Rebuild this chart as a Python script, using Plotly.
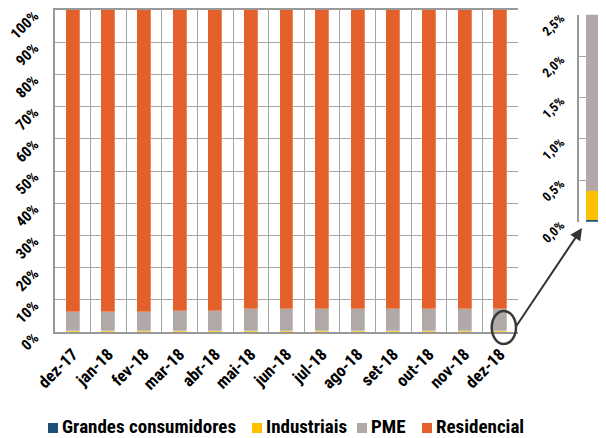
import plotly.graph_objects as go

# share of each segment (%), dez-17 .. dez-18
meses = ["dez-17", "jan-18", "fev-18", "mar-18", "abr-18", "mai-18", "jun-18",
         "jul-18", "ago-18", "set-18", "out-18", "nov-18", "dez-18"]
grandes = [0.03, 0.03, 0.03, 0.03, 0.03, 0.03, 0.03, 0.03, 0.03, 0.03, 0.03, 0.03, 0.03]
industriais = [0.34, 0.34, 0.34, 0.34, 0.34, 0.34, 0.34, 0.34, 0.34, 0.34, 0.34, 0.34, 0.34]
pme = [5.83, 5.83, 5.83, 6.23, 6.23, 6.63, 6.63, 6.63, 6.63, 6.63, 6.63, 6.63, 6.73]
residencial = [93.8, 93.8, 93.8, 93.4, 93.4, 93.0, 93.0, 93.0, 93.0, 93.0, 93.0, 93.0, 92.9]

main_ticks = [0, 10, 20, 30, 40, 50, 60, 70, 80, 90, 100]
main_labels = ["0%", "10%", "20%", "30%", "40%", "50%", "60%", "70%", "80%", "90%", "100%"]
zoom_ticks = [0, 0.5, 1.0, 1.5, 2.0, 2.5]
zoom_labels = ["0,0%", "0,5%", "1,0%", "1,5%", "2,0%", "2,5%"]

series = [("Grandes consumidores", grandes, "#1F4E79"),
          ("Industriais", industriais, "#FFC000"),
          ("PME", pme, "#B1A9A7"),
          ("Residencial", residencial, "#E3602A")]
legend_x = [48, 252, 357, 422]   # left edge of each legend square, px

FONT = "Roboto Condensed, Liberation Sans Narrow, Arial Narrow, Liberation Sans, Arial"

# page body has an 8px margin, so the figure is drawn 8px in from the corner
OFF = 8
W, H = 606 - OFF, 438 - OFF


def px(x):
    return (x - OFF) / W


def py(y):
    return 1 - (y - OFF) / H


fig = go.Figure()
for name, vals, col in series:
    fig.add_trace(go.Bar(x=meses, y=vals, name=name, marker_color=col,
                         marker_line=dict(color="rgba(255,255,255,0.5)", width=0.5),
                         width=0.39, xaxis="x", yaxis="y", showlegend=False))
# zoomed view of the last month
for name, vals, col in series:
    fig.add_trace(go.Bar(x=meses[-1:], y=vals[-1:], name=name, marker_color=col,
                         marker_line_width=0, width=0.47, showlegend=False,
                         xaxis="x2", yaxis="y2"))

fig.update_layout(
    width=W, height=H,
    margin=dict(l=0, r=0, t=0, b=0),
    paper_bgcolor="white", plot_bgcolor="white",
    barmode="stack", bargap=0,
    font=dict(family=FONT, size=16, color="black", weight="bold"),
    xaxis=dict(domain=[px(55), px(518)], type="category", tickangle=-45,
               tickson="boundaries", showgrid=True, gridcolor="#A6A6A6", gridwidth=1,
               showline=True, linecolor="#999999", linewidth=1.5, mirror=True,
               ticks="", tickfont=dict(size=17), ticklabelstandoff=4,
               ticklabeloverflow="allow", anchor="y", automargin=False),
    yaxis=dict(domain=[py(332), py(10)], range=[0, 100], tickvals=main_ticks,
               ticktext=main_labels, tickangle=-45, showgrid=True, gridcolor="#A6A6A6",
               showline=True, linecolor="#999999", linewidth=1.5, zeroline=False,
               ticks="", tickfont=dict(size=15), ticklabelstandoff=16, ticklabelshift=4,
               ticklabeloverflow="allow", anchor="x", automargin=False),
    xaxis2=dict(domain=[px(579), 1.0], type="category", showticklabels=False,
                showgrid=False, ticks="", anchor="y2", automargin=False),
    yaxis2=dict(domain=[py(221.7), py(14.7)], range=[0, 2.5], tickvals=zoom_ticks,
                ticktext=zoom_labels, tickangle=-45, showgrid=True,
                gridcolor="#A6A6A6", showline=True, linecolor="#999999", linewidth=1.5,
                zeroline=False, ticks="", ticklabelstandoff=14, ticklabelshift=2,
                ticklabeloverflow="allow", tickfont=dict(size=13), anchor="x2",
                automargin=False),
)

# legend row drawn as squares + labels
for (name, vals, col), lx in zip(series, legend_x):
    fig.add_shape(type="rect", xref="paper", yref="paper",
                  x0=px(lx), x1=px(lx + 10), y0=py(433), y1=py(423),
                  fillcolor=col, line_width=0)
    fig.add_annotation(xref="paper", yref="paper", x=px(lx + 13), y=py(426),
                       text=name, showarrow=False, xanchor="left", yanchor="middle",
                       borderpad=0, font=dict(size=19, weight="bold"))

# circle round the last bar and arrow to the zoom
fig.add_shape(type="circle", xref="paper", yref="paper",
              x0=px(491.7), x1=px(516), y0=py(344), y1=py(311),
              line=dict(color="#3A3A3A", width=2.5))
fig.add_annotation(xref="paper", yref="paper", x=px(582), y=py(228),
                   ax=515 - 582, ay=328 - 228, text="", showarrow=True,
                   arrowhead=2, arrowsize=1.2, arrowwidth=2, arrowcolor="#333333")

fig.write_html("out.html")
